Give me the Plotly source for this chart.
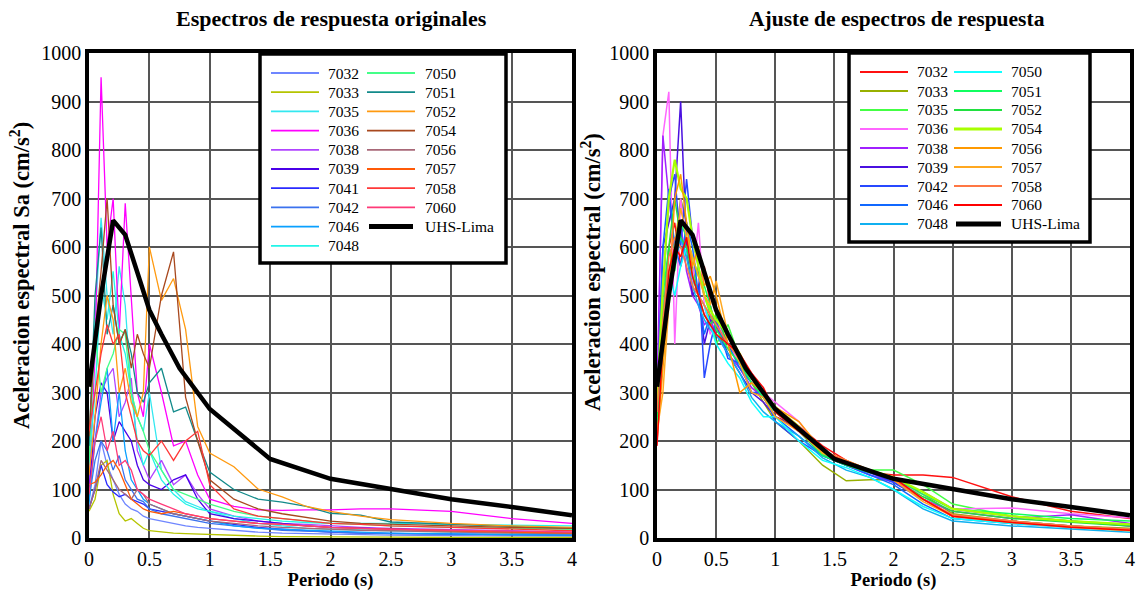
import plotly.graph_objects as go

# ---------------- data ----------------
periods = [0, 0.05, 0.1, 0.15, 0.2, 0.25, 0.3, 0.35, 0.4, 0.45, 0.5, 0.6, 0.7, 0.8, 0.9,
           1.0, 1.2, 1.4, 1.6, 1.8, 2.0, 2.25, 2.5, 3.0, 3.5, 4.0]

uhs_periods = [0, 0.1, 0.2, 0.3, 0.4, 0.5, 0.6, 0.75, 1.0, 1.5, 2.0, 2.5, 3.0, 3.5, 4.0]
uhs_lima = [312, 500, 655, 625, 548, 470, 420, 350, 266, 163, 122, 101, 80, 64, 47]

# original spectra (left panel)
o7032 = [60, 110, 200, 150, 120, 90, 70, 60, 55, 45, 40, 35, 30, 25, 22, 20, 15, 12, 10, 9, 8, 7, 6, 5, 4, 4]
o7033 = [55, 80, 150, 160, 90, 50, 35, 40, 30, 20, 15, 12, 10, 9, 8, 7, 5, 4, 3, 3, 2, 2, 2, 1, 1, 1]
o7035 = [180, 450, 660, 500, 420, 560, 480, 300, 250, 220, 300, 140, 100, 75, 65, 55, 40, 30, 25, 20, 18, 16, 15, 12, 10, 8]
o7036 = [100, 380, 950, 600, 700, 420, 690, 500, 300, 250, 400, 300, 190, 200, 130, 80, 65, 58, 57, 58, 58, 60, 60, 55, 40, 30]
o7038 = [120, 200, 300, 330, 350, 250, 280, 330, 180, 150, 120, 160, 110, 130, 90, 60, 45, 35, 30, 28, 25, 22, 20, 18, 15, 12]
o7039 = [90, 250, 320, 300, 200, 240, 220, 200, 150, 120, 110, 100, 120, 130, 80, 50, 40, 35, 30, 25, 22, 20, 18, 15, 12, 10]
o7041 = [60, 100, 150, 110, 95, 85, 90, 80, 75, 70, 60, 55, 50, 45, 40, 35, 28, 22, 18, 15, 12, 10, 9, 8, 7, 6]
o7042 = [80, 160, 200, 180, 140, 170, 120, 100, 80, 75, 60, 50, 45, 40, 35, 30, 25, 20, 16, 14, 12, 10, 9, 8, 7, 6]
o7046 = [70, 200, 280, 350, 200, 300, 180, 120, 100, 80, 70, 60, 50, 45, 40, 35, 25, 20, 18, 15, 14, 12, 10, 8, 7, 6]
o7048 = [150, 300, 520, 450, 550, 420, 380, 300, 200, 150, 180, 120, 90, 70, 60, 55, 45, 40, 35, 32, 30, 30, 30, 28, 27, 25]
o7050 = [160, 420, 300, 350, 380, 430, 420, 300, 250, 220, 180, 140, 100, 90, 80, 70, 55, 45, 40, 35, 30, 28, 25, 22, 20, 18]
o7051 = [190, 500, 640, 420, 480, 400, 430, 380, 300, 280, 320, 350, 260, 270, 200, 136, 100, 80, 74, 65, 51, 47, 33, 28, 24, 20]
o7052 = [130, 250, 400, 500, 450, 300, 350, 280, 250, 300, 600, 490, 535, 430, 230, 175, 147, 101, 85, 65, 55, 45, 38, 30, 25, 22]
o7054 = [210, 420, 550, 700, 480, 400, 430, 350, 420, 380, 350, 500, 590, 290, 200, 120, 80, 60, 50, 42, 35, 30, 28, 25, 22, 20]
o7056 = [60, 100, 160, 140, 120, 100, 90, 80, 100, 90, 70, 60, 50, 45, 40, 35, 30, 25, 22, 20, 18, 16, 15, 12, 10, 9]
o7057 = [110, 115, 130, 150, 160, 140, 110, 80, 70, 60, 55, 50, 55, 50, 45, 40, 35, 30, 28, 25, 22, 20, 18, 15, 12, 10]
o7058 = [220, 300, 380, 440, 400, 420, 300, 250, 200, 180, 170, 200, 160, 200, 220, 110, 60, 45, 40, 35, 30, 28, 25, 22, 18, 15]
o7060 = [90, 200, 250, 180, 220, 150, 160, 140, 100, 90, 80, 70, 60, 50, 45, 40, 35, 30, 28, 25, 22, 20, 18, 16, 14, 12]

left_names = ["7032", "7033", "7035", "7036", "7038", "7039", "7041", "7042", "7046", "7048",
              "7050", "7051", "7052", "7054", "7056", "7057", "7058", "7060"]
left_values = [o7032, o7033, o7035, o7036, o7038, o7039, o7041, o7042, o7046, o7048,
               o7050, o7051, o7052, o7054, o7056, o7057, o7058, o7060]
left_colors = ["#6f86ff", "#b5c400", "#33e8f0", "#ff00ff", "#b044ff", "#4a00e8", "#2a2aff", "#3b72ee",
               "#0aa0ff", "#22f5e8", "#44ff88", "#128a8a", "#ff9a10", "#a8481e", "#a86878", "#ff5a08",
               "#ff3838", "#ff3a78"]

# matched spectra (right panel)
a7032 = [250, 420, 600, 650, 560, 620, 500, 520, 560, 480, 430, 400, 380, 330, 290, 250, 230, 190, 160, 135, 130, 130, 125, 85, 55, 40]
a7033 = [230, 380, 520, 600, 700, 650, 560, 500, 480, 450, 420, 390, 360, 320, 280, 240, 200, 150, 118, 120, 120, 90, 50, 35, 25, 20]
a7035 = [220, 400, 550, 620, 600, 580, 520, 560, 500, 460, 400, 440, 370, 330, 300, 270, 230, 175, 155, 140, 140, 110, 70, 45, 35, 28]
a7036 = [280, 830, 920, 400, 700, 600, 520, 650, 480, 420, 450, 400, 360, 340, 300, 280, 240, 175, 150, 130, 118, 90, 60, 62, 50, 42]
a7038 = [300, 830, 700, 600, 650, 550, 500, 480, 440, 450, 420, 380, 350, 310, 290, 260, 220, 170, 150, 130, 115, 80, 55, 40, 48, 30]
a7039 = [260, 600, 650, 700, 900, 600, 500, 520, 400, 450, 440, 380, 340, 300, 280, 250, 225, 175, 150, 135, 120, 95, 60, 45, 35, 25]
a7042 = [240, 500, 700, 750, 600, 740, 620, 560, 330, 400, 450, 370, 360, 300, 300, 240, 200, 170, 150, 135, 115, 80, 45, 35, 25, 18]
a7046 = [270, 600, 720, 600, 560, 650, 600, 500, 420, 460, 440, 400, 350, 320, 290, 250, 210, 170, 150, 130, 110, 70, 40, 30, 22, 16]
a7048 = [230, 450, 600, 560, 620, 580, 520, 480, 450, 430, 420, 380, 340, 290, 260, 240, 210, 165, 140, 125, 100, 60, 35, 25, 18, 12]
a7050 = [200, 400, 550, 500, 560, 600, 540, 500, 480, 440, 400, 360, 330, 280, 250, 250, 200, 160, 145, 125, 100, 65, 40, 30, 22, 15]
a7051 = [230, 500, 600, 550, 650, 620, 580, 540, 520, 480, 430, 390, 360, 320, 290, 260, 220, 170, 150, 135, 125, 90, 60, 50, 40, 35]
a7052 = [250, 450, 600, 700, 620, 600, 540, 500, 460, 440, 460, 400, 370, 330, 300, 265, 225, 175, 155, 138, 120, 85, 55, 40, 32, 25]
a7054 = [280, 520, 700, 780, 720, 700, 620, 560, 500, 470, 450, 420, 380, 330, 300, 270, 230, 175, 155, 140, 125, 95, 60, 45, 35, 28]
a7056 = [200, 350, 500, 700, 750, 650, 560, 600, 520, 540, 500, 400, 300, 320, 300, 270, 240, 180, 160, 140, 120, 80, 45, 35, 25, 18]
a7057 = [220, 300, 480, 600, 680, 620, 580, 540, 500, 480, 530, 420, 360, 300, 290, 250, 220, 175, 160, 140, 120, 75, 45, 32, 22, 15]
a7058 = [260, 450, 580, 620, 600, 560, 520, 500, 480, 460, 440, 400, 370, 340, 300, 270, 230, 180, 160, 140, 122, 80, 48, 35, 25, 18]
a7060 = [190, 400, 550, 600, 580, 620, 540, 500, 460, 440, 420, 400, 380, 340, 310, 260, 220, 180, 155, 140, 125, 80, 45, 32, 22, 16]

right_names = ["7032", "7033", "7035", "7036", "7038", "7039", "7042", "7046", "7048",
               "7050", "7051", "7052", "7054", "7056", "7057", "7058", "7060"]
right_values = [a7032, a7033, a7035, a7036, a7038, a7039, a7042, a7046, a7048,
                a7050, a7051, a7052, a7054, a7056, a7057, a7058, a7060]
right_colors = ["#ff1010", "#98b000", "#44ff44", "#ff66ff", "#a020ff", "#4a10e0", "#2848ff", "#1068ff",
                "#10b0f0", "#10ffff", "#10ff60", "#20e040", "#a8ff00", "#ff9900", "#ffa820", "#ff7744",
                "#ff0000"]

# ---------------- figure ----------------
W, H = 1137, 597
FONT = "Liberation Serif"


def px(x):
    return x / W


def py(y):
    return 1 - y / H


fig = go.Figure()

for nm, vals, col in zip(left_names, left_values, left_colors):
    fig.add_trace(go.Scatter(x=periods, y=vals, name=nm, mode="lines",
                             line=dict(color=col, width=1.3), xaxis="x", yaxis="y"))
fig.add_trace(go.Scatter(x=uhs_periods, y=uhs_lima, name="UHS-Lima", mode="lines",
                         line=dict(color="black", width=4.5), xaxis="x", yaxis="y"))

for nm, vals, col in zip(right_names, right_values, right_colors):
    fig.add_trace(go.Scatter(x=periods, y=vals, name=nm, mode="lines",
                             line=dict(color=col, width=1.5 if nm != "7054" else 2.2),
                             xaxis="x2", yaxis="y2"))
fig.add_trace(go.Scatter(x=uhs_periods, y=uhs_lima, name="UHS-Lima", mode="lines",
                         line=dict(color="black", width=4.5), xaxis="x2", yaxis="y2"))

axis_common = dict(showline=True, mirror=True, linewidth=3.5, linecolor="black",
                   showgrid=True, gridcolor="#555555", gridwidth=1.6, zeroline=False,
                   ticks="", automargin=False,
                   tickfont=dict(family=FONT, size=20, color="black"))

xdom_l = [px(89), px(572)]
xdom_r = [px(657), px(1130)]
ydom = [py(538), py(53)]

fig.update_layout(
    width=W, height=H,
    margin=dict(l=0, r=0, t=0, b=0, autoexpand=False),
    paper_bgcolor="white", plot_bgcolor="white",
    font=dict(family=FONT, color="black"),
    showlegend=False,
    xaxis=dict(domain=xdom_l, range=[0, 4], dtick=0.5, anchor="y",
               title=dict(text="<b>Periodo (s)</b>", font=dict(family=FONT, size=18.5), standoff=3),
               **axis_common),
    yaxis=dict(domain=ydom, range=[0, 1000], dtick=100, anchor="x", **axis_common),
    xaxis2=dict(domain=xdom_r, range=[0, 4], dtick=0.5, anchor="y2",
                title=dict(text="<b>Periodo (s)</b>", font=dict(family=FONT, size=18.5), standoff=3),
                **axis_common),
    yaxis2=dict(domain=ydom, range=[0, 1000], dtick=100, anchor="x2", **axis_common),
)

# y-axis titles (placed as rotated text, off-centre like the reference)
fig.add_annotation(text="<b>Aceleracion espectral Sa (cm/s<sup>2</sup>)</b>", xref="paper", yref="paper",
                   x=px(20), y=py(276), xanchor="center", yanchor="middle", textangle=-90,
                   showarrow=False, font=dict(family=FONT, size=22.5))
fig.add_annotation(text="<b>Aceleracion espectral (cm/s<sup>2</sup>)</b>", xref="paper", yref="paper",
                   x=px(591), y=py(272), xanchor="center", yanchor="middle", textangle=-90,
                   showarrow=False, font=dict(family=FONT, size=22.5))

# ---------------- legend boxes (drawn as shapes + text) ----------------
fig.add_shape(type="rect", xref="paper", yref="paper", x0=px(260), x1=px(506), y0=py(263), y1=py(54),
              line=dict(color="black", width=3.5), fillcolor="white", layer="above")
fig.add_shape(type="rect", xref="paper", yref="paper", x0=px(849), x1=px(1090), y0=py(242), y1=py(53),
              line=dict(color="black", width=3.5), fillcolor="white", layer="above")

LEG_FONT = dict(family=FONT, size=15.5, color="black")


def legend_entry(x_line0, x_line1, x_text, y, name, color, width):
    fig.add_shape(type="line", xref="paper", yref="paper", x0=px(x_line0), x1=px(x_line1),
                  y0=py(y), y1=py(y), line=dict(color=color, width=width), layer="above")
    fig.add_annotation(text=name, xref="paper", yref="paper", x=px(x_text), y=py(y),
                       xanchor="left", yanchor="middle", showarrow=False, font=LEG_FONT)


left_entries = list(zip(left_names, left_colors)) + [("UHS-Lima", "black")]
for i, (nm, col) in enumerate(left_entries):
    if i < 10:
        legend_entry(271, 319, 326, 73 + 19.2 * i, nm, col, 1.8)
    else:
        j = i - 10
        w = 5 if nm == "UHS-Lima" else 1.8
        x0, x1 = (369, 413) if nm == "UHS-Lima" else (367, 415)
        legend_entry(x0, x1, 423, 73 + 19.2 * j, nm, col, w)

right_entries = list(zip(right_names, right_colors)) + [("UHS-Lima", "black")]
for i, (nm, col) in enumerate(right_entries):
    w = 5 if nm == "UHS-Lima" else (3 if nm == "7054" else 2)
    if i < 9:
        legend_entry(860, 908, 915, 72 + 19 * i, nm, col, w)
    else:
        j = i - 9
        x0, x1 = (956, 1001) if nm == "UHS-Lima" else (954, 1002)
        legend_entry(x0, x1, 1009, 72 + 19 * j, nm, col, w)

# panel titles
fig.add_annotation(text="<b>Espectros de respuesta originales</b>", xref="paper", yref="paper",
                   x=px(331), y=py(19), xanchor="center", yanchor="middle", showarrow=False,
                   font=dict(family=FONT, size=22))
fig.add_annotation(text="<b>Ajuste de espectros de respuesta</b>", xref="paper", yref="paper",
                   x=px(897), y=py(19), xanchor="center", yanchor="middle", showarrow=False,
                   font=dict(family=FONT, size=21.5))

fig.write_html("out.html")
